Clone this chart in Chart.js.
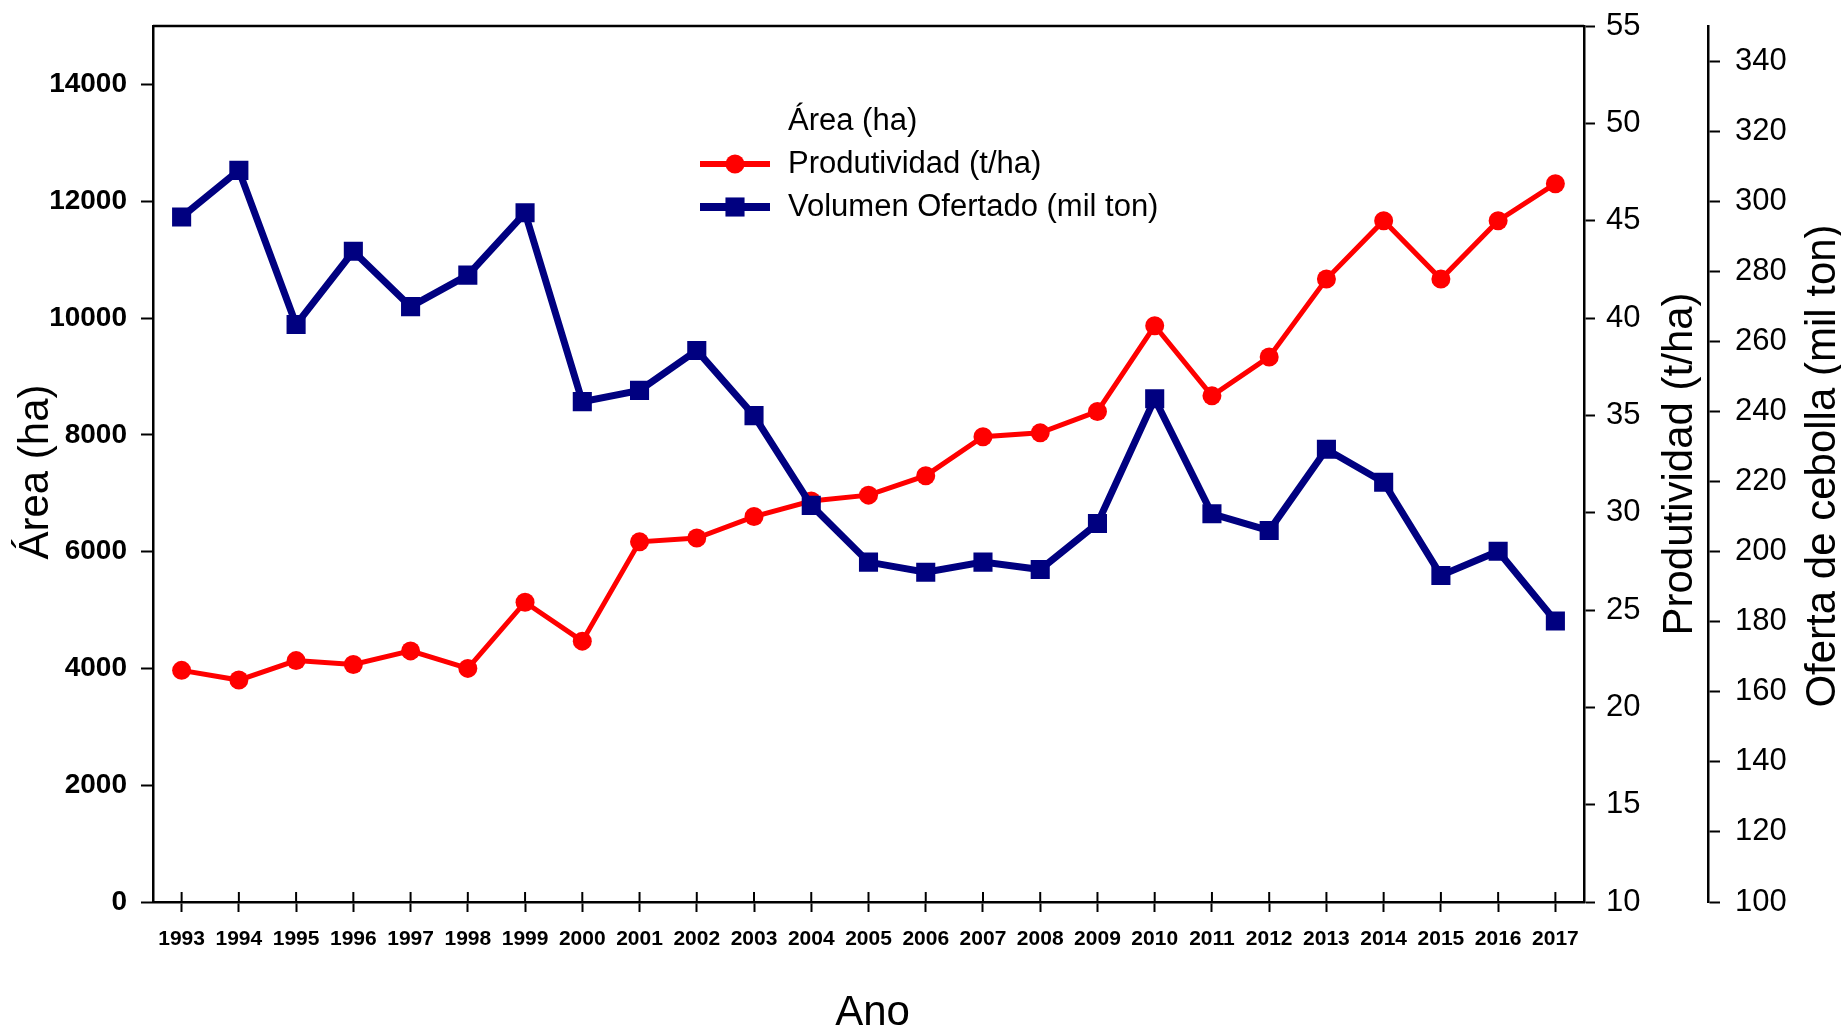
<!DOCTYPE html>
<html lang="es">
<head>
<meta charset="utf-8">
<title>Área, Produtividad y Volumen Ofertado</title>
<script src="https://cdn.jsdelivr.net/npm/chart.js@4.4.1/dist/chart.umd.min.js"></script>
<style>
    html, body { margin: 0; padding: 0; background: #fff; }
    #contenedor { width: 1841px; height: 1031px; position: relative; }
</style>
</head>
<body>
<div id="contenedor"><canvas id="grafico"></canvas></div>
<script>
// Datos
const anos = ["1993", "1994", "1995", "1996", "1997", "1998", "1999", "2000", "2001", "2002", "2003", "2004",
    "2005", "2006", "2007", "2008", "2009", "2010", "2011", "2012", "2013", "2014", "2015", "2016", "2017"];
const produtividad = [21.9, 21.4, 22.4, 22.2, 22.9, 22.0, 25.4, 23.4, 28.5, 28.7, 29.8, 30.6,
    30.9, 31.9, 33.9, 34.1, 35.2, 39.6, 36.0, 38.0, 42.0, 45.0, 42.0, 45.0, 46.9];
const volumen = [295.5, 308.8, 264.8, 285.7, 269.9, 278.9, 296.7, 242.8, 246.0, 257.4, 238.8, 213.2,
    197.0, 194.1, 197.0, 194.9, 208.0, 243.6, 210.8, 206.0, 229.2, 219.8, 193.2, 200.1, 180.2];
// La serie de área no se ve en la figura (solo aparece en la leyenda)
const area = [];

// Marcas de los ejes
const ticksArea = [0, 2000, 4000, 6000, 8000, 10000, 12000, 14000];
const ticksProdutividad = [10, 15, 20, 25, 30, 35, 40, 45, 50, 55];
const ticksOferta = [100, 120, 140, 160, 180, 200, 220, 240, 260, 280, 300, 320, 340];

const FUENTE = "'Liberation Sans', Arial, sans-serif";

// ¿Hay fuente estrecha para los años?
const prueba = document.createElement("canvas").getContext("2d");
prueba.font = "bold 25px 'Liberation Sans Narrow', monospace";
const w1 = prueba.measureText("1993").width;
prueba.font = "bold 25px monospace";
const w2 = prueba.measureText("1993").width;
const hayNarrow = w1 !== w2;
const fuenteAnos = hayNarrow
    ? { family: "'Liberation Sans Narrow', 'Arial Narrow', sans-serif", size: 26, weight: "bold" }
    : { family: FUENTE, size: 21, weight: "bold" };

// Borde superior, marcas internas del eje x, títulos y leyenda
const extras = {
    id: "extras",
    afterDraw(chart) {
        const ctx = chart.ctx;
        const a = chart.chartArea;
        const sx = chart.scales.x;
        ctx.save();
        ctx.strokeStyle = "#000";
        ctx.lineWidth = 2.5;
        ctx.beginPath();
        ctx.moveTo(a.left, a.top);
        ctx.lineTo(a.right, a.top);
        ctx.stroke();

        ctx.lineWidth = 2;
        sx.ticks.forEach((t, i) => {
            const px = sx.getPixelForTick(i);
            ctx.beginPath();
            ctx.moveTo(px, a.bottom);
            ctx.lineTo(px, a.bottom - 10);
            ctx.stroke();
        });

        // Títulos de ejes
        ctx.fillStyle = "#000";
        ctx.font = "42px " + FUENTE;
        ctx.textAlign = "center";
        ctx.textBaseline = "alphabetic";
        const medioY = (a.top + a.bottom) / 2;
        const vertical = (texto, x, y) => {
            ctx.save();
            ctx.translate(x, y);
            ctx.rotate(-Math.PI / 2);
            ctx.fillText(texto, 0, 0);
            ctx.restore();
        };
        vertical(chart.options.scales.y.title.text, 48, medioY + 8);
        vertical(chart.options.scales.y1.title.text, chart.scales.y1.left + 108, medioY);
        vertical(chart.options.scales.y2.title.text, chart.scales.y2.left + 127, medioY + 2);
        ctx.fillText(chart.options.scales.x.title.text, (a.left + a.right) / 2 + 4, 1025);

        // Leyenda
        ctx.font = "31px " + FUENTE;
        ctx.textAlign = "left";
        ctx.textBaseline = "middle";
        const lx = a.left + 547;
        chart.data.datasets.forEach((ds, i) => {
            const y = a.top + 95 + i * 43;
            if (ds.showInLegendLine) {
                ctx.strokeStyle = ds.borderColor;
                ctx.lineWidth = ds.borderWidth + 1;
                ctx.beginPath();
                ctx.moveTo(lx, y);
                ctx.lineTo(lx + 70, y);
                ctx.stroke();
                ctx.fillStyle = ds.pointBackgroundColor;
                if (ds.pointStyle === "rect") {
                    const s = ds.pointRadius * Math.SQRT1_2;
                    ctx.fillRect(lx + 35 - s, y - s, 2 * s, 2 * s);
                } else {
                    ctx.beginPath();
                    ctx.arc(lx + 35, y, ds.pointRadius, 0, Math.PI * 2);
                    ctx.fill();
                }
            }
            ctx.fillStyle = "#000";
            ctx.fillText(ds.label, lx + 88, y);
        });
        ctx.restore();
    }
};

const fijarTicks = (valores) => (scale) => {
    scale.ticks = valores.map((v) => ({ value: v }));
};
const sinComa = (v) => String(v);
// ancho fijo de cada eje vertical, sin relleno extra arriba/abajo
const anchoFijo = (ancho) => (s) => {
    s.width = ancho;
    s.paddingTop = 0;
    s.paddingBottom = 0;
};

const ctxGrafico = document.getElementById("grafico").getContext("2d");
new Chart(ctxGrafico, {
    type: "line",
    data: {
        labels: anos,
        datasets: [
            {
                label: "Área (ha)",
                data: area,
                yAxisID: "y",
                showLine: false,
                pointRadius: 0,
                showInLegendLine: false,
                order: 3
            },
            {
                label: "Produtividad (t/ha)",
                data: produtividad,
                yAxisID: "y1",
                borderColor: "#ff0000",
                borderWidth: 5,
                pointStyle: "circle",
                pointRadius: 9.5,
                pointBackgroundColor: "#ff0000",
                pointBorderWidth: 0,
                showInLegendLine: true,
                order: 2
            },
            {
                label: "Volumen Ofertado (mil ton)",
                data: volumen,
                yAxisID: "y2",
                borderColor: "#000080",
                borderWidth: 7,
                pointStyle: "rect",
                pointRadius: 13.5,
                pointBackgroundColor: "#000080",
                pointBorderWidth: 0,
                showInLegendLine: true,
                order: 1
            }
        ]
    },
    options: {
        responsive: true,
        maintainAspectRatio: false,
        animation: false,
        layout: { padding: { top: 26, left: 0, right: 0, bottom: 0 } },
        plugins: {
            legend: { display: false },
            tooltip: { enabled: false }
        },
        scales: {
            x: {
                offset: true,
                title: { display: false, text: "Ano" },
                grid: { offset: false, drawOnChartArea: false, tickLength: 10, tickWidth: 2, color: "#000" },
                border: { color: "#000", width: 2.5 },
                ticks: { color: "#000", font: fuenteAnos, padding: 15, maxRotation: 0, autoSkip: false },
                afterFit: (s) => { s.height = 129; s.paddingLeft = 0; s.paddingRight = 0; }
            },
            y: {
                position: "left",
                min: 0,
                max: 15000,
                title: { display: false, text: "Área (ha)" },
                grid: { drawOnChartArea: false, tickLength: 12, tickWidth: 2, color: "#000" },
                border: { color: "#000", width: 2.5 },
                ticks: { color: "#000", padding: 14, callback: sinComa, font: { family: FUENTE, size: 28, weight: "bold" } },
                afterBuildTicks: fijarTicks(ticksArea),
                afterFit: anchoFijo(153)
            },
            y1: {
                position: "right",
                min: 10,
                max: 55,
                title: { display: false, text: "Produtividad (t/ha)" },
                grid: { drawOnChartArea: false, tickLength: 11, tickWidth: 2, color: "#000" },
                border: { color: "#000", width: 2.5 },
                ticks: { color: "#000", padding: 11, callback: sinComa, font: { family: FUENTE, size: 31 } },
                afterBuildTicks: fijarTicks(ticksProdutividad),
                afterFit: anchoFijo(124)
            },
            y2: {
                position: "right",
                min: 100,
                max: 350,
                title: { display: false, text: "Oferta de cebolla (mil ton)" },
                grid: { drawOnChartArea: false, tickLength: 12, tickWidth: 2, color: "#000" },
                border: { color: "#000", width: 2.5 },
                ticks: { color: "#000", padding: 15, callback: sinComa, font: { family: FUENTE, size: 31 } },
                afterBuildTicks: fijarTicks(ticksOferta),
                afterFit: anchoFijo(133)
            }
        }
    },
    plugins: [extras]
});
</script>
</body>
</html>
